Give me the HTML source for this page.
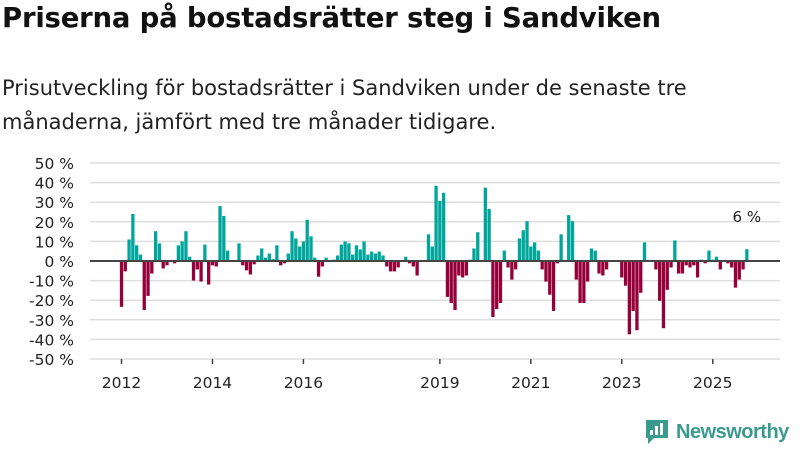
<!DOCTYPE html>
<html><head><meta charset="utf-8">
<style>
body{margin:0;background:#fff;width:800px;height:450px;overflow:hidden;font-family:"DejaVu Sans",sans-serif;}
#title{position:absolute;left:2px;top:2px;font-size:27.5px;font-weight:bold;color:#111;margin:0;white-space:nowrap;letter-spacing:-0.2px}
#sub{position:absolute;left:2px;top:71px;font-size:21px;color:#222;line-height:34px;width:725px}
svg{position:absolute;left:0;top:0}
</style></head><body>
<h1 id="title">Priserna på bostadsrätter steg i Sandviken</h1>
<div id="sub">Prisutveckling för bostadsrätter i Sandviken under de senaste tre månaderna, jämfört med tre månader tidigare.</div>
<svg id="chart" width="800" height="450"></svg>
<script>
const values=[-23.4,-5.3,11,24,8,3.3,-25,-17.8,-6.4,15.2,9,-3.8,-2.2,0,-1.2,8,10,15.2,2.2,-10,-4.3,-10.5,8.4,-12,-2.2,-2.8,28,23,5.3,0,0,9,-2.2,-4.8,-6.9,-1.7,2.8,6.4,1.7,3.8,1,8,-2.2,-1.2,3.8,15.2,11.5,7.4,10,21,12.6,1.7,-8,-2.8,1.7,0,0.7,2.8,8.4,10,9,3.3,8,5.9,10,3.3,4.8,3.8,4.8,2.8,-2.8,-5.3,-5.3,-3.3,0,2.2,-1.2,-2.8,-7.4,0,0,13.6,7.4,38.4,30.7,34.8,-18.3,-21.4,-25,-7.4,-8.4,-7.4,0.7,6.4,14.7,0,37.4,26.6,-28.6,-24.5,-21.4,5.3,-3.3,-9.5,-4.3,11.5,15.7,20.3,7.4,9.5,5.3,-4.3,-10.5,-17.2,-25.5,-1.2,13.6,0,23.4,20.3,-9.5,-21.4,-21.4,-10.5,6.4,5.3,-6.4,-7.4,-4.3,0,0,0,-8.4,-12.6,-37.4,-25.5,-35.3,-16.2,9.5,0,0,-4.3,-20.3,-34.3,-14.7,-3.3,10.5,-6.4,-6.4,-2.2,-3.3,-2.2,-8.4,0.7,-1.2,5.3,0.7,2.2,-4.3,0,-1.2,-3.3,-13.6,-9.5,-4.3,6];
const startYear=2012;
const yTicks=[50,40,30,20,10,0,-10,-20,-30,-40,-50];
const xTickYears=[2012,2014,2016,2019,2021,2023,2025];
const lastLabel="6 %";
const NS="http://www.w3.org/2000/svg";
const svg=document.getElementById('chart');
const y=v=>261-v*1.96;
const x=i=>121.5+i*3.79;
function mk(t,a){const e=document.createElementNS(NS,t);for(const k in a)e.setAttribute(k,a[k]);svg.appendChild(e);return e;}
yTicks.forEach(t=>{
  const g=mk('line',{x1:90,x2:780,y1:y(t),y2:y(t),stroke:'#dedede','stroke-width':1.5});
  
  
  const l=mk('text',{x:74,y:y(t)+6,'text-anchor':'end','font-size':15.5,fill:'#222','font-family':'DejaVu Sans, sans-serif'});
  l.textContent=t+' %';
  
  
});
xTickYears.forEach(yr=>{
  const i=(yr-startYear)*12;
  const tk=mk('line',{x1:x(i),x2:x(i),y1:359,y2:364,stroke:'#444','stroke-width':1.5});
  
  
  const l=mk('text',{x:x(i),y:388,'text-anchor':'middle','font-size':15.5,fill:'#222','font-family':'DejaVu Sans, sans-serif'});
  l.textContent=yr;
  
  
});
values.forEach((v,i)=>{
  if(v===0)return;
  const top=Math.min(y(v),y(0)),h=Math.abs(y(v)-y(0));
  const b=mk('rect',{x:x(i)-1.65,y:top,width:3.3,height:h,fill:v>0?'#00a59b':'#960039'});
  
  
});
const z=mk('line',{x1:90,x2:780,y1:y(0),y2:y(0),stroke:'#444','stroke-width':2});


const n=values.length-1;
const lab=mk('text',{x:x(n),y:y(values[n])-27,'text-anchor':'middle','font-size':15,fill:'#222','font-family':'DejaVu Sans, sans-serif'});
lab.textContent=lastLabel;


</script>
<div style="position:absolute;left:644px;top:418px;display:flex;align-items:center;">
<svg width="26" height="28" style="position:static"><path d="M2 2h22v18H10l-6 6v-6H2z" fill="#3a9a8e"/><rect x="6" y="12" width="3" height="5" fill="#fff"/><rect x="11" y="8" width="3" height="9" fill="#fff"/><rect x="16" y="5" width="3" height="12" fill="#fff"/></svg>
<span style="font-size:20px;color:#3a9a8e;margin-left:6px;font-weight:bold;letter-spacing:-0.5px;font-family:'Liberation Sans',sans-serif">Newsworthy</span>
</div>
</body></html>
